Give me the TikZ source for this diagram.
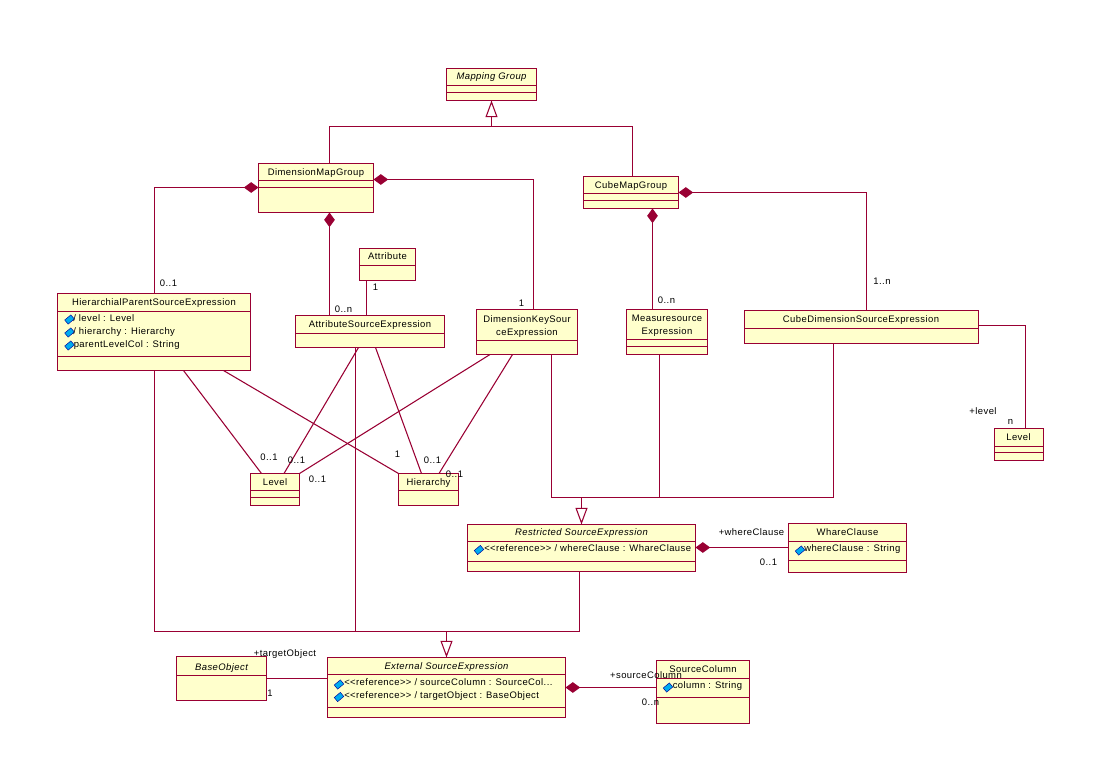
\documentclass[tikz,border=0pt]{standalone}
\usepackage{fontspec}
\setmainfont[LetterSpace=4.5]{Liberation Sans}
\usetikzlibrary{fit}
\usetikzlibrary{arrows.meta}
\definecolor{umlred}{HTML}{990033}
\definecolor{umlfill}{HTML}{FFFFCC}
\tikzset{
    myclass/.style = {rectangle, draw=umlred, fill=umlfill, line width=0.8pt, inner sep=0pt, outer sep=0pt},
    mytwoline/.style = {inner sep=0pt, align=center, text=black, font=\fontsize{7.1}{9.75}\selectfont},
    mytitle/.style = {mytwoline, text height=6pt, text depth=0.9pt},
    myitalic/.style = {mytitle, font=\fontsize{7.1}{9.75}\selectfont\itshape},
    myattr/.style = {mytitle, anchor=west},
    mylabel/.style = {mytitle},
    myicon/.style = {rectangle, draw=blue!60!black, fill=cyan, line width=0.35pt, inner sep=0pt, minimum width=6pt, minimum height=4pt, rotate=40},
    edgen/.style = {-, line width=0.8pt, umlred},
    edgec/.style = {{Diamond[length=11pt,width=8pt]}-, line width=0.8pt, umlred},
    edgeg/.style = {-{Triangle[open,length=12.5pt,width=9pt,fill=white]}, line width=0.8pt, umlred}
}
\begin{document}
\begin{tikzpicture}[x=0.75pt,y=-0.75pt]
\useasboundingbox (0,0) rectangle (1093,758);
%
\node[myclass,fit={(446.5,68.5) (536.5,100.5)}] (mapping) {};
\node[myclass,fit={(258.5,163.5) (373.5,212.5)}] (dimgroup) {};
\node[myclass,fit={(583.5,176.5) (678.5,208.5)}] (cubegroup) {};
\node[myclass,fit={(359.5,248.5) (415.5,280.5)}] (attribute) {};
\node[myclass,fit={(57.5,293.5) (250.5,370.5)}] (hierparent) {};
\node[myclass,fit={(295.5,315.5) (444.5,347.5)}] (attrsource) {};
\node[myclass,fit={(476.5,309.5) (577.5,354.5)}] (dimkey) {};
\node[myclass,fit={(626.5,309.5) (707.5,354.5)}] (measure) {};
\node[myclass,fit={(744.5,310.5) (978.5,343.5)}] (cubedim) {};
\node[myclass,fit={(994.5,428.5) (1043.5,460.5)}] (levelb) {};
\node[myclass,fit={(250.5,473.5) (299.5,505.5)}] (level) {};
\node[myclass,fit={(398.5,473.5) (458.5,505.5)}] (hierarchy) {};
\node[myclass,fit={(467.5,524.5) (695.5,571.5)}] (restricted) {};
\node[myclass,fit={(788.5,523.5) (906.5,572.5)}] (whare) {};
\node[myclass,fit={(176.5,656.5) (266.5,700.5)}] (baseobject) {};
\node[myclass,fit={(327.5,657.5) (565.5,717.5)}] (external) {};
\node[myclass,fit={(656.5,660.5) (749.5,723.5)}] (sourcecol) {};
%
\draw[edgen] (mapping.west |- 0,85.5) -- (mapping.east |- 0,85.5);
\draw[edgen] (mapping.west |- 0,92.5) -- (mapping.east |- 0,92.5);
\draw[edgen] (dimgroup.west |- 0,180.5) -- (dimgroup.east |- 0,180.5);
\draw[edgen] (dimgroup.west |- 0,187.5) -- (dimgroup.east |- 0,187.5);
\draw[edgen] (cubegroup.west |- 0,193.5) -- (cubegroup.east |- 0,193.5);
\draw[edgen] (cubegroup.west |- 0,200.5) -- (cubegroup.east |- 0,200.5);
\draw[edgen] (attribute.west |- 0,265.5) -- (attribute.east |- 0,265.5);
\draw[edgen] (hierparent.west |- 0,311.5) -- (hierparent.east |- 0,311.5);
\draw[edgen] (hierparent.west |- 0,356.5) -- (hierparent.east |- 0,356.5);
\draw[edgen] (attrsource.west |- 0,333.5) -- (attrsource.east |- 0,333.5);
\draw[edgen] (dimkey.west |- 0,340.5) -- (dimkey.east |- 0,340.5);
\draw[edgen] (measure.west |- 0,339.5) -- (measure.east |- 0,339.5);
\draw[edgen] (measure.west |- 0,346.5) -- (measure.east |- 0,346.5);
\draw[edgen] (cubedim.west |- 0,328.5) -- (cubedim.east |- 0,328.5);
\draw[edgen] (levelb.west |- 0,446.5) -- (levelb.east |- 0,446.5);
\draw[edgen] (levelb.west |- 0,452.5) -- (levelb.east |- 0,452.5);
\draw[edgen] (level.west |- 0,490.5) -- (level.east |- 0,490.5);
\draw[edgen] (level.west |- 0,497.5) -- (level.east |- 0,497.5);
\draw[edgen] (hierarchy.west |- 0,490.5) -- (hierarchy.east |- 0,490.5);
\draw[edgen] (restricted.west |- 0,541.5) -- (restricted.east |- 0,541.5);
\draw[edgen] (restricted.west |- 0,561.5) -- (restricted.east |- 0,561.5);
\draw[edgen] (whare.west |- 0,541.5) -- (whare.east |- 0,541.5);
\draw[edgen] (whare.west |- 0,560.5) -- (whare.east |- 0,560.5);
\draw[edgen] (baseobject.west |- 0,675.5) -- (baseobject.east |- 0,675.5);
\draw[edgen] (external.west |- 0,674.5) -- (external.east |- 0,674.5);
\draw[edgen] (external.west |- 0,707.5) -- (external.east |- 0,707.5);
\draw[edgen] (sourcecol.west |- 0,678.5) -- (sourcecol.east |- 0,678.5);
\draw[edgen] (sourcecol.west |- 0,697.5) -- (sourcecol.east |- 0,697.5);
%
\coordinate (mapjoin) at (491.5,126.5);
\coordinate (restjoin) at (581.5,497.5);
\coordinate (extjoin) at (446.5,631.5);
%
\draw[edgeg] (mapjoin) -- (mapping.south -| mapjoin);
\draw[edgen] (dimgroup.north -| 329.5,0) |- (mapjoin);
\draw[edgen] (cubegroup.north -| 632.5,0) |- (mapjoin);
\draw[edgeg] (restjoin) -- (restricted.north -| restjoin);
\draw[edgen] (dimkey.south -| 551.5,0) |- (restjoin);
\draw[edgen] (measure.south -| 659.5,0) |- (restjoin);
\draw[edgen] (cubedim.south -| 833.5,0) |- (restjoin);
\draw[edgeg] (extjoin) -- (external.north -| extjoin);
\draw[edgen] (hierparent.south -| 154.5,0) |- (extjoin);
\draw[edgen] (attrsource.south -| 355.5,0) |- (extjoin);
\draw[edgen] (restricted.south -| 579.5,0) |- (extjoin);
%
\draw[edgec] (dimgroup.west |- 0,187.5) -| (hierparent.north -| 154.5,0);
\draw[edgec] (dimgroup.east |- 0,179.5) -| (dimkey.north -| 533.5,0);
\draw[edgec] (dimgroup.south -| 329.5,0) -- (attrsource.north -| 329.5,0);
\draw[edgec] (cubegroup.east |- 0,192.5) -| (cubedim.north -| 866.5,0);
\draw[edgec] (cubegroup.south -| 652.5,0) -- (measure.north -| 652.5,0);
\draw[edgec] (restricted.east |- 0,547.5) -- (whare.west |- 0,547.5);
\draw[edgec] (external.east |- 0,687.5) -- (sourcecol.west |- 0,687.5);
%
\draw[edgen] (attribute.south -| 366.5,0) -- (attrsource.north -| 366.5,0);
\draw[edgen] (cubedim.east |- 0,325.5) -| (levelb.north -| 1025.5,0);
\draw[edgen] (baseobject.east |- 0,678.5) -- (external.west |- 0,678.5);
\draw[edgen] (hierparent.south -| 183.5,0) -- (level.north -| 261.5,0);
\draw[edgen] (hierparent.south -| 223.5,0) -- (hierarchy.north west);
\draw[edgen] (attrsource.south -| 358.5,0) -- (level.north -| 284,0);
\draw[edgen] (attrsource.south -| 375.5,0) -- (hierarchy.north -| 421.5,0);
\draw[edgen] (dimkey.south -| 490,0) -- (level.north east);
\draw[edgen] (dimkey.south -| 512.5,0) -- (hierarchy.north -| 439,0);
%
\node[myitalic] at (491.5,76.5) (mappingt) {Mapping Group};
\node[mytitle] at (316,172) (dimgroupt) {DimensionMapGroup};
\node[mytitle] at (631,185) (cubegroupt) {CubeMapGroup};
\node[mytitle] at (387.5,256.5) (attributet) {Attribute};
\node[mytitle] at (154,302.5) (hierparentt) {HierarchialParentSourceExpression};
\node[mytitle] at (370,324.5) (attrsourcet) {AttributeSourceExpression};
\node[mytwoline] at (527,327) (dimkeyt) {DimensionKeySour\\ceExpression};
\node[mytwoline] at (667,326) (measuret) {Measuresource\\Expression};
\node[mytitle] at (861,319.5) (cubedimt) {CubeDimensionSourceExpression};
\node[mytitle] at (1018.5,437.5) (levelbt) {Level};
\node[mytitle] at (275,482.5) (levelt) {Level};
\node[mytitle] at (428.5,482.5) (hierarchyt) {Hierarchy};
\node[myitalic] at (581.5,532.5) (restrictedt) {Restricted SourceExpression};
\node[mytitle] at (847.5,532.5) (wharet) {WhareClause};
\node[myitalic] at (221.5,667.5) (baseobjectt) {BaseObject};
\node[myitalic] at (446.5,666.5) (externalt) {External SourceExpression};
\node[mytitle] at (703,669.5) (sourcecolt) {SourceColumn};
%
\node[myicon] at (69.5,319.5) (iconlevel) {};
\node[myicon] at (69.5,332.5) (iconhier) {};
\node[myicon] at (69.5,345.5) (iconparent) {};
\node[myicon] at (479,550) (iconwhere) {};
\node[myicon] at (800,550.5) (iconwhc) {};
\node[myicon] at (339,684.5) (iconcol) {};
\node[myicon] at (339,697) (icontarget) {};
\node[myicon] at (668,687.5) (iconcolumn) {};
%
\node[myattr] at (73,318.5) (attrlevel) {/ level : Level};
\node[myattr] at (73,331.5) (attrhier) {/ hierarchy : Hierarchy};
\node[myattr] at (73.5,344.5) (attrparent) {parentLevelCol : String};
\node[myattr] at (484,548.5) (attrwhere) {<{}<reference>{}> / whereClause : WhareClause};
\node[myattr] at (804,548.5) (attrwhc) {whereClause : String};
\node[myattr] at (344,682.5) (attrcol) {<{}<reference>{}> / sourceColumn : SourceCol...};
\node[myattr] at (344,695.5) (attrtarget) {<{}<reference>{}> / targetObject : BaseObject};
\node[myattr] at (672.5,685.5) (attrcolumn) {column : String};
%
\node[mylabel] at (168.5,283.5) (lhier) {0..1};
\node[mylabel] at (375.5,287.5) (lattr) {1};
\node[mylabel] at (343.5,309.5) (lattrs) {0..n};
\node[mylabel] at (521.5,303.5) (ldimkey) {1};
\node[mylabel] at (666.5,300.5) (lmeasure) {0..n};
\node[mylabel] at (882,281.5) (lcubedim) {1..n};
\node[mylabel] at (983,411.5) (lplevel) {+level};
\node[mylabel] at (1010.5,421) (lnlevel) {n};
\node[mylabel] at (269,457.5) (llevela) {0..1};
\node[mylabel] at (296.5,460) (llevelb) {0..1};
\node[mylabel] at (317.5,479.5) (llevelc) {0..1};
\node[mylabel] at (397.5,454.5) (lhiera) {1};
\node[mylabel] at (432.5,460.5) (lhierb) {0..1};
\node[mylabel] at (454.5,474.5) (lhierc) {0..1};
\node[mylabel] at (751.5,532.5) (lpwhere) {+whereClause};
\node[mylabel] at (768.5,562.5) (lnwhere) {0..1};
\node[mylabel] at (285,653.5) (lptarget) {+targetObject};
\node[mylabel] at (270,693.5) (lntarget) {1};
\node[mylabel] at (646,675.5) (lpsource) {+sourceColumn};
\node[mylabel] at (650.5,702.5) (lnsource) {0..n};

\end{tikzpicture}
\end{document}
